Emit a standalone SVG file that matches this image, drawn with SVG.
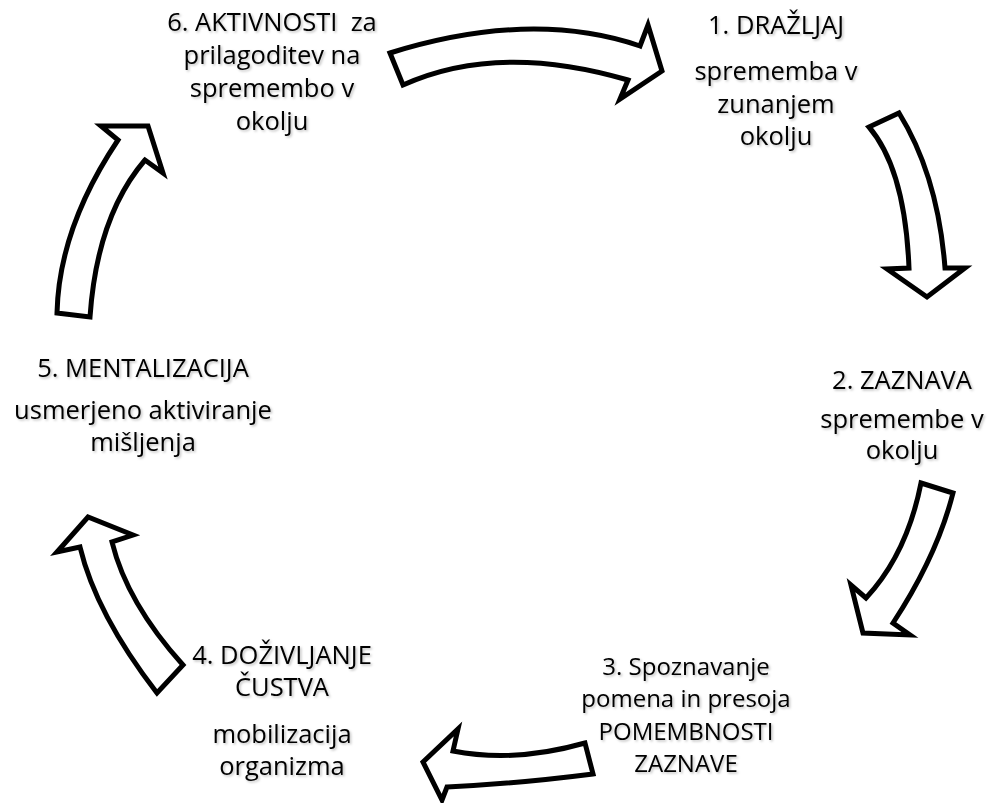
<svg xmlns="http://www.w3.org/2000/svg" width="989" height="803" viewBox="0 0 989 803">
<defs>
<filter id="sh" x="-10%" y="-20%" width="120%" height="140%">
<feDropShadow dx="1.5" dy="1.5" stdDeviation="1" flood-color="#000" flood-opacity="0.25"/>
</filter>
<style>
.t{font-family:"Open Sans","Liberation Sans",Arial,sans-serif;font-size:25.5px;fill:#000;text-anchor:middle;filter:url(#sh);white-space:pre}
.s{font-size:24px}
.a{fill:#fff;stroke:#000;stroke-width:5;stroke-linejoin:miter}
</style>
</defs>
<rect width="989" height="803" fill="#fff"/>
<g id="connectors">
<path class="a" d="M390,53 Q531,9 640,46 L648,25 L662,71 L620,99 L628,80 Q498,42 403,85 Z"/>
<path class="a" d="M869,127 L899,113 Q938,176 945,268 L965,268 L927,297 L887,269 L909,268 Q905,169 869,127 Z"/>
<path class="a" d="M921,483 L953,493 Q937,556 893,623 L910,635 L863,633 L851,585 L866,598 Q907,554 921,483 Z"/>
<path class="a" d="M585,743 L593,774 Q514,784 447,787 L442,800 L423,762 L458,729 L453,751 Q515,763 585,743 Z"/>
<path class="a" d="M157,693 Q96,614 80,547 L57,552 L88,517 L133,535 L112,542 Q127,603 183,665 Z"/>
<path class="a" d="M57,313 Q59,228 118,140 L101,126 L148,126 L163,173 L145,160 Q97,216 90,317 Z"/>
</g>
<g id="node6">
<text class="t" x="272" y="31">6. AKTIVNOSTI  za</text>
<text class="t" x="272" y="64">prilagoditev na</text>
<text class="t" x="272" y="97">spremembo v</text>
<text class="t" x="272" y="130">okolju</text>
</g>
<g id="node1">
<text class="t" x="776" y="34">1. DRAŽLJAJ</text>
<text class="t" x="776" y="80">sprememba v</text>
<text class="t" x="776" y="113">zunanjem</text>
<text class="t" x="776" y="145">okolju</text>
</g>
<g id="node2">
<text class="t" x="902" y="389">2. ZAZNAVA</text>
<text class="t" x="902" y="428">spremembe v</text>
<text class="t" x="902" y="459">okolju</text>
</g>
<g id="node3">
<text class="t s" x="686" y="675">3. Spoznavanje</text>
<text class="t s" x="686" y="707">pomena in presoja</text>
<text class="t s" x="686" y="740">POMEMBNOSTI</text>
<text class="t s" x="686" y="772">ZAZNAVE</text>
</g>
<g id="node4">
<text class="t" x="282" y="664">4. DOŽIVLJANJE</text>
<text class="t" x="282" y="696">ČUSTVA</text>
<text class="t" x="282" y="743">mobilizacija</text>
<text class="t" x="282" y="775">organizma</text>
</g>
<g id="node5">
<text class="t" x="143" y="377">5. MENTALIZACIJA</text>
<text class="t" x="143" y="419">usmerjeno aktiviranje</text>
<text class="t" x="143" y="451">mišljenja</text>
</g>
</svg>
